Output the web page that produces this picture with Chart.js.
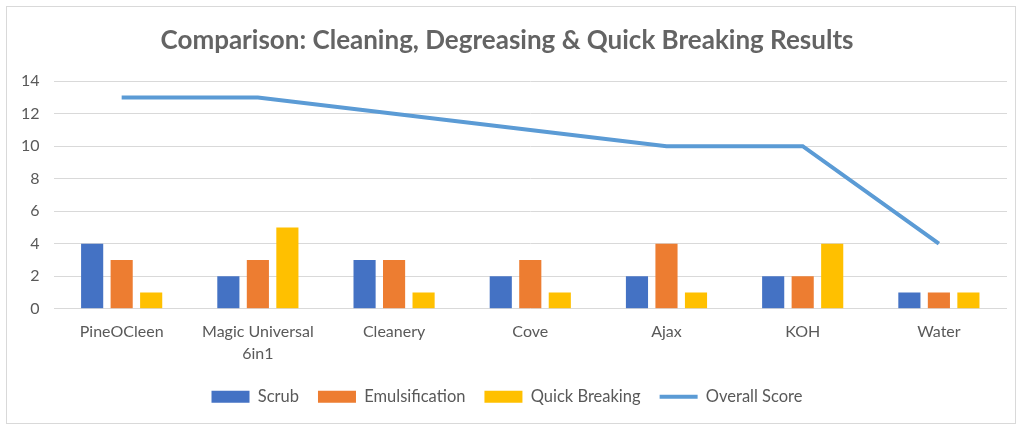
<!DOCTYPE html>
<html>
<head>
<meta charset="utf-8">
<script src="https://cdn.jsdelivr.net/npm/chart.js@4"></script>
<style>
  html, body { margin: 0; padding: 0; background: #fff; }
  #box { position: absolute; left: 6px; top: 6px; width: 1010px; height: 418px; border: 1px solid #d9d9d9; box-sizing: border-box; }
</style>
</head>
<body>
<div id="box"><canvas id="myChart"></canvas></div>
<script>
const categorias = ['PineOCleen', ['Magic Universal', '6in1'], 'Cleanery', 'Cove', 'Ajax', 'KOH', 'Water']
const scrub = [4, 2, 3, 2, 2, 2, 1]
const emulsification = [3, 3, 3, 3, 4, 2, 1]
const quickBreaking = [1, 5, 1, 1, 1, 4, 1]
const overallScore = [13, 13, 12, 11, 10, 10, 4]

const fonte = 'Lato, "Open Sans", sans-serif'
const cinza = '#595959'

function barra(label, data, cor) {
    return {
        type: 'bar',
        label: label,
        data: data,
        backgroundColor: cor,
        borderWidth: 0,
        categoryPercentage: 0.65,
        barPercentage: 0.75,
        order: 2
    }
}

const cfg = {
    data: {
        labels: categorias,
        datasets: [
            barra('Scrub', scrub, '#4472C4'),
            barra('Emulsification', emulsification, '#ED7D31'),
            barra('Quick Breaking', quickBreaking, '#FFC000'),
            {
                type: 'line',
                label: 'Overall Score',
                data: overallScore,
                borderColor: '#5B9BD5',
                backgroundColor: '#5B9BD5',
                borderWidth: 4,
                pointRadius: 0,
                pointStyle: 'line',
                tension: 0,
                order: 1
            }
        ]
    },
    options: {
        maintainAspectRatio: false,
        responsive: true,
        animation: false,
        layout: { padding: { left: 0, right: 8, top: 8, bottom: 8 } },
        plugins: {
            title: {
                display: true,
                text: 'Comparison: Cleaning, Degreasing & Quick Breaking Results',
                color: '#646464',
                font: { family: fonte, size: 26, weight: 'bold' },
                padding: { top: 10, bottom: 25 }
            },
            legend: {
                position: 'bottom',
                labels: {
                    color: cinza,
                    font: { family: fonte, size: 16.5 },
                    usePointStyle: true,
                    pointStyleWidth: 38,
                    boxHeight: 12,
                    padding: 19,
                    generateLabels: function (chart) {
                        return chart.data.datasets.map(function (ds, i) {
                            const linha = ds.type === 'line'
                            return {
                                text: ds.label,
                                fillStyle: ds.backgroundColor,
                                strokeStyle: ds.borderColor || ds.backgroundColor,
                                lineWidth: linha ? 4 : 0,
                                pointStyle: linha ? 'line' : 'rect',
                                fontColor: cinza,
                                datasetIndex: i,
                                hidden: false
                            }
                        })
                    }
                }
            },
            tooltip: { enabled: false }
        },
        scales: {
            x: {
                grid: { display: false },
                border: { display: false },
                ticks: { color: cinza, font: { family: fonte, size: 16, lineHeight: 1.4 }, padding: 4, maxRotation: 0 }
            },
            y: {
                min: 0,
                max: 14,
                ticks: { stepSize: 2, color: cinza, font: { family: fonte, size: 16 }, padding: 14 },
                grid: { color: '#d9d9d9', drawTicks: false },
                border: { display: false }
            }
        }
    }
}

const ctx = document.getElementById('myChart').getContext('2d')
// eslint-disable-next-line no-undef
const myChart = new Chart(ctx, cfg)
</script>
</body>
</html>
